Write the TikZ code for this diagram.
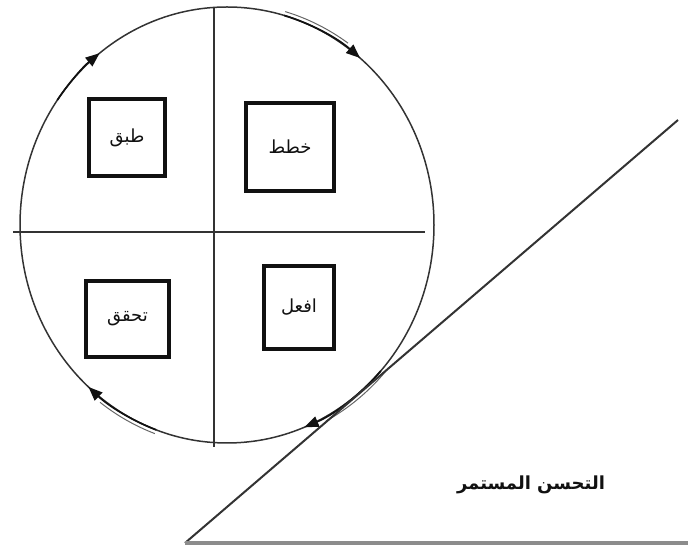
\documentclass[tikz,border=0pt]{standalone}
\usepackage{fontspec}
\usetikzlibrary{arrows.meta,calc}
\TeXXeTstate=1
\newfontfamily\arabicfont[Script=Arabic]{DejaVu Sans}
\definecolor{ink}{HTML}{111111}
\definecolor{rule}{HTML}{333333}
\definecolor{floor}{HTML}{8C8C8C}
\tikzset{
  stagebox/.style={
    draw=ink,fill=white,line width=4.5pt,inner sep=0pt,
    font=\arabicfont\fontsize{18}{21}\selectfont,text=ink
  },
  rim/.style={draw=rule,line width=1.5pt},
  axis/.style={draw=rule,line width=1.3pt},
  cyclearrow/.style={draw=ink,line width=1.7pt,-{Triangle[length=14pt,width=11pt]}},
  trail/.style={draw=rule!75,line width=1pt},
  ramp/.style={draw=rule,line width=2pt}
}

\begin{document}
\begin{tikzpicture}[x=1pt,y=1pt]
\useasboundingbox (0,0) rectangle (688,548);

% wheel and its cross
\coordinate (hub) at (227,323);
\draw[rim] (hub) ellipse[x radius=207pt,y radius=218pt];
\coordinate (crosstop) at (214,541);
\coordinate (crossbottom) at (214,101);
\coordinate (crossleft) at (13,316);
\coordinate (crossright) at (425,316);
\draw[axis] (crosstop) -- (crossbottom);
\draw[axis] (crossleft) -- (crossright);

% cycle arrows on the rim
\foreach \from/\to in {74/50,145/128,250/228,-42/-68} {
  \draw[cyclearrow] ($(hub)+(\from:207pt and 218pt)$)
    arc[start angle=\from,end angle=\to,x radius=207pt,y radius=218pt];
}
\foreach \from/\to in {74/55,250/233,-40/-62} {
  \draw[trail] ($(hub)+(\from:211pt and 222pt)$)
    arc[start angle=\from,end angle=\to,x radius=211pt,y radius=222pt];
}

% the four stages
\node[stagebox,minimum width=88pt,minimum height=88pt] (plan) at (290,401) {\beginR خطط\endR};
\node[stagebox,minimum width=70pt,minimum height=83pt] (do) at (299,240.5) {\beginR افعل\endR};
\node[stagebox,minimum width=83pt,minimum height=76pt] (check) at (127.5,229) {\beginR تحقق\endR};
\node[stagebox,minimum width=76pt,minimum height=77pt] (act) at (127,410.5) {\beginR طبق\endR};

% the slope
\coordinate (foot) at (185,5);
\coordinate (peak) at (678,428);
\coordinate (edge) at (688,5);
\draw[ramp] (foot) -- (peak);
\draw[floor,line width=4pt] (foot) -- (edge);
\node[font=\arabicfont\bfseries\fontsize{18}{21}\selectfont,text=ink] (gain) at (531,63)
  {\beginR التحسن المستمر\endR};

\end{tikzpicture}
\end{document}
